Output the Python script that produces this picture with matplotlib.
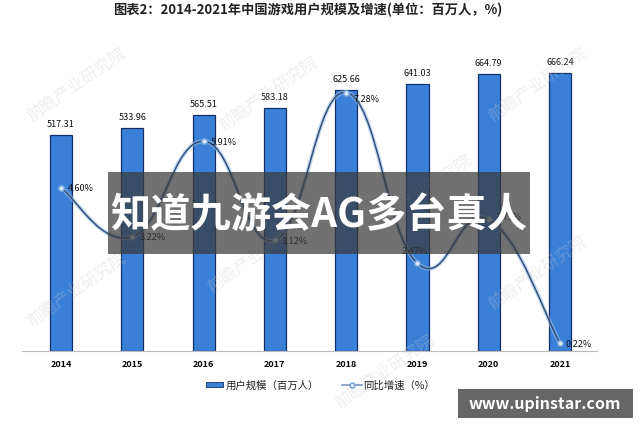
import matplotlib.pyplot as plt
from matplotlib.path import Path
from matplotlib.patches import PathPatch, Rectangle
import numpy as np

plt.rcParams['font.family'] = ['Noto Sans CJK SC', 'DejaVu Sans']

years = ['2014', '2015', '2016', '2017', '2018', '2019', '2020', '2021']
users = [517.31, 533.96, 565.51, 583.18, 625.66, 641.03, 664.79, 666.24]
growth = [4.60, 3.22, 5.91, 3.12, 7.28, 2.47, 3.71, 0.22]
growth_labels = ['4.60%', '3.22%', '5.91%', '3.12%', '7.28%', '2.47%', '3.71%', '0.22%']

fig = plt.figure(figsize=(6.4, 4.27), dpi=100)
ax = fig.add_axes([0.034, 0.1756, 0.899, 0.73])
x = np.arange(len(years))

ax.bar(x, users, width=0.31, color='#3a7fd8', edgecolor='#14306a', linewidth=0.9, zorder=2)
for xi, v in zip(x, users):
    ax.annotate(f'{v:.2f}', (xi, v), xytext=(0, 5), textcoords='offset points',
                ha='center', va='bottom', fontsize=6.5, color='#111111')

ax.set_xlim(-0.55, 7.52)
ax.set_ylim(0, 747)
for s in ['top', 'right', 'left']:
    ax.spines[s].set_visible(False)
ax.spines['bottom'].set_color('#bbbbbb')
ax.set_yticks([])
ax.set_xticks(x)
ax.set_xticklabels(years, fontsize=6.5, fontweight='bold')
ax.tick_params(axis='x', length=0, pad=6)

# smoothed growth line (Catmull-Rom through the data points)
ax2 = ax.twinx()
ax2.set_ylim(0, 8.78)
ax2.set_yticks([])
for s in ax2.spines.values():
    s.set_visible(False)
pts = np.column_stack([x, growth])
verts = [pts[0]]
codes = [Path.MOVETO]
for i in range(len(pts) - 1):
    p0 = pts[i - 1] if i > 0 else pts[i]
    p3 = pts[i + 2] if i + 2 < len(pts) else pts[i + 1]
    c1 = pts[i] + (pts[i + 1] - p0) / 6 * 1.3
    c2 = pts[i + 1] - (p3 - pts[i]) / 6 * 1.3
    verts += [c1, c2, pts[i + 1]]
    codes += [Path.CURVE4] * 3
ax2.add_patch(PathPatch(Path(verts, codes), facecolor='none', edgecolor='#9cc3ea',
                        linewidth=3.0, alpha=0.6, zorder=3))
ax2.add_patch(PathPatch(Path(verts, codes), facecolor='none', edgecolor='#34507a',
                        linewidth=1.1, zorder=4))
ax2.plot(x, growth, linestyle='none', marker='o', markersize=4,
         markerfacecolor='#d8e8f8', markeredgecolor='#6fa3d8', zorder=5)
offsets = [(5, 0), (5, 0), (5, 0), (5, 0), (5, -4), (-2, 9), (5, 2), (4, 0)]
aligns = ['left', 'left', 'left', 'left', 'left', 'center', 'left', 'left']
for xi, g, lab, off, ha in zip(x, growth, growth_labels, offsets, aligns):
    ax2.annotate(lab, (xi, g), xytext=off, textcoords='offset points',
                 ha=ha, va='center', fontsize=6.5, color='#111111', zorder=6)

# faint watermarks
for wx, wy in [(0.12, 0.8), (0.42, 0.78), (0.66, 0.55), (0.84, 0.8), (0.12, 0.32), (0.4, 0.4), (0.6, 0.13), (0.84, 0.36)]:
    fig.text(wx, wy, '前瞻产业研究院', fontsize=12, color='#c8c8c8', alpha=0.3,
             rotation=35, ha='center', va='center', zorder=0)

fig.text(0.48, 0.977, '图表2：2014-2021年中国游戏用户规模及增速(单位：百万人，%)',
         ha='center', va='center', fontsize=9.5, fontweight='bold', color='#222222')

# legend
fig.patches.append(Rectangle((0.322, 0.091), 0.026, 0.012, transform=fig.transFigure,
                             facecolor='#3a7fd8', edgecolor='#14306a', linewidth=0.6))
fig.text(0.352, 0.097, '用户规模（百万人）', fontsize=7.5, va='center', color='#222222')
fig.lines.append(plt.Line2D([0.535, 0.565], [0.097, 0.097], transform=fig.transFigure,
                            color='#6f8fb8', linewidth=1.1))
fig.lines.append(plt.Line2D([0.55], [0.097], transform=fig.transFigure, linestyle='none',
                            marker='o', markersize=3.5, markerfacecolor='#d8e8f8',
                            markeredgecolor='#6fa3d8'))
fig.text(0.568, 0.097, '同比增速（%）', fontsize=7.5, va='center', color='#222222')

# overlay banner
fig.patches.append(Rectangle((108 / 640, 1 - 255 / 427), 422 / 640, 82 / 427,
                             transform=fig.transFigure, facecolor='#3a3a3a', alpha=0.72,
                             edgecolor='none', zorder=10))
fig.text(319 / 640, 1 - 215 / 427, '知道九游会AG多台真人', ha='center', va='center',
         fontsize=29, fontweight='bold', color='white', zorder=11)

fig.patches.append(Rectangle((458 / 640, 1 - 419 / 427), 175 / 640, 29 / 427,
                             transform=fig.transFigure, facecolor='#555555', alpha=0.9,
                             edgecolor='none', zorder=10))
fig.text(545 / 640, 1 - 404 / 427, 'www.upinstar.com', ha='center', va='center',
         fontsize=11.5, fontweight='bold', color='white', zorder=11)

fig.savefig('out.png', dpi=100)
